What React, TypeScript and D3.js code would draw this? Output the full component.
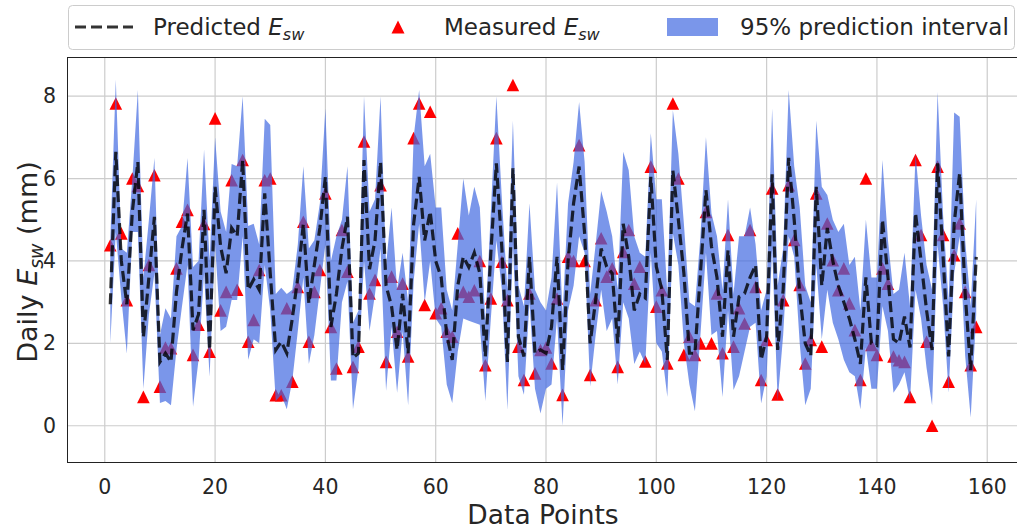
import * as d3 from "d3";

// index runs 1..158, one value per data point
const predicted = [
  2.95, 6.65, 4.0, 2.95, 5.2, 6.4, 2.15, 3.6, 5.07, 1.55,
  1.76, 1.55, 3.25, 4.3, 5.15, 2.32, 2.7, 5.24, 1.84, 5.8,
  4.35, 3.7, 4.8, 4.6, 6.45, 3.3, 3.55, 3.3, 5.64, 3.7,
  1.84, 2.04, 1.76, 2.6, 3.6, 4.9, 2.97, 3.9, 4.8, 6.04,
  2.4, 3.2, 4.3, 5.07, 1.65, 1.76, 6.45, 3.8, 4.5, 6.4,
  3.4, 2.9, 1.84, 3.2, 1.76, 4.9, 6.04, 4.5, 5.2, 4.0,
  3.6, 2.2, 1.6, 3.4, 4.1, 3.85, 4.2, 3.7, 1.68, 4.2,
  6.37, 4.3, 1.55, 6.25, 2.16, 1.68, 4.1, 1.76, 1.84, 1.76,
  2.4, 4.1, 1.35, 4.0, 5.4, 6.29, 4.67, 2.0, 3.05, 4.3,
  3.86, 3.7, 2.0, 4.9, 4.1, 2.8, 3.2, 3.1, 6.04, 3.86,
  3.3, 1.6, 6.2, 5.0, 3.7, 1.76, 1.76, 3.7, 5.72, 4.35,
  3.6, 2.16, 4.26, 2.16, 3.13, 3.21, 3.6, 3.9, 1.6, 2.16,
  6.1, 1.84, 3.3, 6.5, 5.0, 3.2, 2.0, 1.7, 5.8, 3.4,
  4.8, 4.0, 3.4, 3.0, 2.6, 2.1, 1.5, 3.6, 2.0, 1.95,
  5.0, 3.6, 2.1, 2.0, 2.65, 1.9, 5.16, 4.0, 2.8, 1.84,
  6.37, 4.1, 1.68, 4.9, 6.13, 3.2, 1.35, 4.1,
];

const measured = [
  4.38, 7.82, 4.67, 3.05, 6.0, 5.82, 0.7, 3.9, 6.08, 0.95,
  1.9, 1.88, 3.82, 4.95, 5.24, 1.72, 2.45, 4.9, 1.8, 7.46,
  2.8, 3.25, 5.96, 3.3, 6.45, 2.04, 2.57, 3.78, 5.96, 6.0,
  0.74, 0.74, 2.85, 1.07, 3.37, 4.95, 2.04, 3.25, 3.78, 5.64,
  2.4, 1.39, 4.75, 3.74, 1.43, 1.92, 6.9, 3.21, 3.54, 5.84,
  1.55, 3.62, 2.28, 3.45, 1.68, 6.98, 7.82, 2.93, 7.62, 2.73,
  2.85, 2.28, 2.16, 4.67, 3.25, 3.13, 3.29, 4.0, 1.47, 3.09,
  6.98, 3.98, 3.05, 8.27, 1.92, 1.11, 3.21, 1.27, 1.84, 1.9,
  1.51, 3.09, 0.75, 4.1, 4.0, 6.81, 4.0, 1.23, 3.05, 4.55,
  3.62, 3.82, 1.43, 4.22, 4.75, 3.45, 3.86, 1.56, 6.29, 2.89,
  3.29, 1.51, 7.82, 6.0, 1.72, 2.16, 1.72, 2.0, 5.19, 2.0,
  3.21, 1.76, 4.63, 1.92, 2.85, 2.48, 4.75, 3.37, 1.11, 2.08,
  5.76, 0.76, 3.05, 5.84, 4.51, 3.42, 1.51, 2.08, 5.64, 1.92,
  4.91, 4.02, 3.29, 3.82, 2.97, 2.32, 1.11, 6.0, 1.96, 1.72,
  3.82, 3.45, 1.68, 1.59, 1.55, 0.7, 6.45, 4.63, 2.04, 0.0,
  6.29, 4.63, 1.07, 4.14, 4.91, 3.25, 1.47, 2.4,
];

const lower = [
  2.0, 4.7, 3.1, 1.75, 4.7, 4.7, 0.9, 2.7, 3.7, 0.55,
  0.6, 0.5, 1.85, 2.9, 3.9, 0.46, 1.6, 3.7, 1.19, 4.4,
  2.3, 2.4, 3.05, 3.05, 4.6, 1.6, 2.1, 2.0, 3.9, 2.8,
  0.6, 0.75, 0.4, 1.1, 2.3, 3.6, 1.5, 2.2, 3.3, 4.4,
  1.1, 1.1, 3.0, 3.5, 0.4, 1.4, 4.0, 2.3, 3.2, 4.3,
  0.85, 2.4, 0.8, 2.3, 0.5, 3.5, 4.9, 3.0, 4.0, 2.6,
  2.4, 1.0, 0.55, 1.8, 2.6, 2.55, 2.5, 2.45, 0.6, 2.6,
  4.5, 3.3, 0.38, 4.4, 1.2, 0.75, 3.0, 0.9, 0.3, 0.9,
  1.0, 2.6, 0.0, 2.8, 3.4, 4.6, 4.2, 0.95, 2.2, 3.3,
  2.3, 2.6, 1.0, 3.0, 2.6, 1.5, 1.8, 1.5, 4.2, 2.0,
  1.8, 0.7, 4.67, 3.9, 2.0, 1.0, 0.35, 2.2, 4.2, 2.2,
  2.3, 0.7, 2.8, 0.87, 1.2, 1.8, 2.4, 2.5, 0.54, 1.2,
  4.3, 0.6, 2.2, 4.6, 4.1, 2.0, 0.5, 0.9, 3.9, 2.1,
  3.3, 2.5, 2.1, 1.6, 1.3, 1.2, 0.4, 1.9, 0.9, 0.9,
  2.9, 2.3, 0.8, 1.0, 1.3, 0.6, 3.3, 2.6, 1.4, 0.5,
  4.4, 2.9, 0.8, 3.7, 4.6, 1.7, 0.2, 2.7,
];

const upper = [
  4.5, 8.4, 4.3, 4.2, 6.0, 8.15, 3.6, 5.0, 6.5, 2.2,
  2.85, 2.6, 4.6, 4.85, 6.5, 3.85, 4.0, 6.7, 4.0, 7.0,
  5.2, 4.7, 6.35, 6.3, 8.0, 4.85, 4.9, 4.4, 7.45, 7.3,
  3.2, 3.35, 3.2, 3.3, 4.4, 6.3, 4.3, 4.5, 5.4, 7.7,
  4.0, 4.6, 5.0, 6.3, 2.5, 2.8, 8.0, 5.2, 5.5, 8.0,
  3.9, 5.3, 3.3, 4.2, 3.0, 7.0, 8.15, 6.3, 6.6, 5.3,
  5.3, 3.3, 2.8, 4.4, 6.0, 5.1, 5.8, 5.3, 2.5, 5.2,
  8.0, 5.5, 3.3, 7.4, 3.4, 2.9, 5.4, 3.3, 3.0, 2.8,
  3.6, 5.9, 2.7, 5.4, 6.4, 7.86, 6.4, 3.2, 4.4, 5.7,
  5.2, 4.6, 3.3, 6.65, 6.2, 4.6, 4.2, 4.1, 7.1, 5.5,
  5.5, 3.2, 7.66, 6.6, 4.9, 3.0, 2.9, 4.6, 7.0, 5.15,
  4.6, 3.3, 5.5, 3.2, 4.6, 4.6, 5.3, 4.4, 2.8, 3.3,
  7.7, 3.4, 4.3, 8.15, 6.3, 5.3, 3.4, 3.0, 7.4, 5.8,
  5.6, 5.0, 4.7, 4.9, 3.9, 4.1, 2.8, 5.0, 3.6, 3.6,
  6.45, 4.5, 3.2, 3.3, 4.2, 2.9, 6.6, 5.1, 3.9, 3.3,
  8.1, 5.1, 3.0, 7.6, 7.5, 4.5, 2.9, 5.5,
];

const xTicks = [0, 20, 40, 60, 80, 100, 120, 140, 160];
const yTicks = [0, 2, 4, 6, 8];

const font = "DejaVu Sans";
const textColor = "#262626";
const bandColor = "royalblue";

// matplotlib-style "^" marker, centred on the point
const tri = (h) => `M0,${-h}L${h},${h}L${-h},${h}Z`;

function Esw({ size }) {
  return (
    <>
      <tspan fontStyle="italic">E</tspan>
      <tspan fontStyle="italic" fontSize={size * 0.7} dy={size * 0.22}>
        sw
      </tspan>
    </>
  );
}

export default function App() {
  const width = 1017;
  const height = 529;
  const left = 67;
  const right = 1019.5;
  const top = 57;
  const bottom = 462;

  const pts = predicted.map((p, i) => ({
    n: i + 1,
    p,
    m: measured[i],
    lo: lower[i],
    hi: upper[i],
  }));

  const x = d3.scaleLinear().domain([-6.85, 165.85]).range([left, right]);
  const y = d3.scaleLinear().domain([-0.88, 8.95]).range([bottom, top]);

  const band = d3
    .area()
    .x((d) => x(d.n))
    .y0((d) => y(d.lo))
    .y1((d) => y(d.hi));

  const line = d3
    .line()
    .x((d) => x(d.n))
    .y((d) => y(d.p));

  return (
    <svg
      width={width}
      height={height}
      style={{ position: "absolute", left: 0, top: 0, background: "white" }}
      fontFamily={font}
    >
      <defs>
        <clipPath id="plot">
          <rect x={left} y={top} width={width - left} height={bottom - top} />
        </clipPath>
      </defs>

      {/* grid */}
      <g stroke="#cccccc" strokeWidth={1.2}>
        {xTicks.map((t) => (
          <line key={"gx" + t} x1={x(t)} x2={x(t)} y1={top} y2={bottom} />
        ))}
        {yTicks.map((t) => (
          <line key={"gy" + t} x1={left} x2={width} y1={y(t)} y2={y(t)} />
        ))}
      </g>

      <g clipPath="url(#plot)">
        {/* measured points sit under the band, so they turn purple inside it */}
        {pts.map((d) => (
          <path
            key={"m" + d.n}
            d={tri(6.3)}
            transform={`translate(${x(d.n)},${y(d.m)})`}
            fill="red"
          />
        ))}
        <path d={band(pts)} fill={bandColor} fillOpacity={0.7} />
        <path
          d={line(pts)}
          fill="none"
          stroke="black"
          strokeOpacity={0.8}
          strokeWidth={3.2}
          strokeDasharray="11 5"
        />
      </g>

      {/* spines */}
      <g stroke="#222" strokeWidth={1}>
        <line x1={left + 0.5} x2={left + 0.5} y1={top} y2={bottom} />
        <line x1={left} x2={width} y1={bottom + 0.5} y2={bottom + 0.5} />
        <line x1={left} x2={width} y1={top + 0.5} y2={top + 0.5} />
      </g>

      {/* tick labels */}
      <g fill={textColor} fontSize={20.5}>
        {xTicks.map((t) => (
          <text key={"tx" + t} x={x(t)} y={494} textAnchor="middle">
            {t}
          </text>
        ))}
        {yTicks.map((t) => (
          <text
            key={"ty" + t}
            x={56}
            y={y(t)}
            textAnchor="end"
            dominantBaseline="central"
          >
            {t}
          </text>
        ))}
      </g>

      {/* axis titles */}
      <text
        x={543}
        y={523.5}
        textAnchor="middle"
        fontSize={26.5}
        fill={textColor}
      >
        Data Points
      </text>
      <text
        transform="translate(37,262) rotate(-90)"
        textAnchor="middle"
        fontSize={27}
        fill={textColor}
      >
        Daily <Esw size={27} />
        <tspan dy={-27 * 0.22}> (mm)</tspan>
      </text>

      {/* legend */}
      <g>
        <rect
          x={68.5}
          y={5.5}
          width={946}
          height={44}
          rx={4}
          fill="white"
          stroke="#cccccc"
        />
        <line
          x1={75}
          x2={133}
          y1={27}
          y2={27}
          stroke="black"
          strokeOpacity={0.8}
          strokeWidth={3.2}
          strokeDasharray="11 5"
        />
        <text x={153} y={35} fontSize={23} fill={textColor}>
          Predicted <Esw size={23} />
        </text>
        <path d={tri(6.5)} transform="translate(398,27)" fill="red" />
        <text x={444} y={35} fontSize={23} fill={textColor}>
          Measured <Esw size={23} />
        </text>
        <rect
          x={667}
          y={18}
          width={51}
          height={18}
          fill={bandColor}
          fillOpacity={0.7}
        />
        <text x={740} y={35} fontSize={23} fill={textColor}>
          95% prediction interval
        </text>
      </g>
    </svg>
  );
}
